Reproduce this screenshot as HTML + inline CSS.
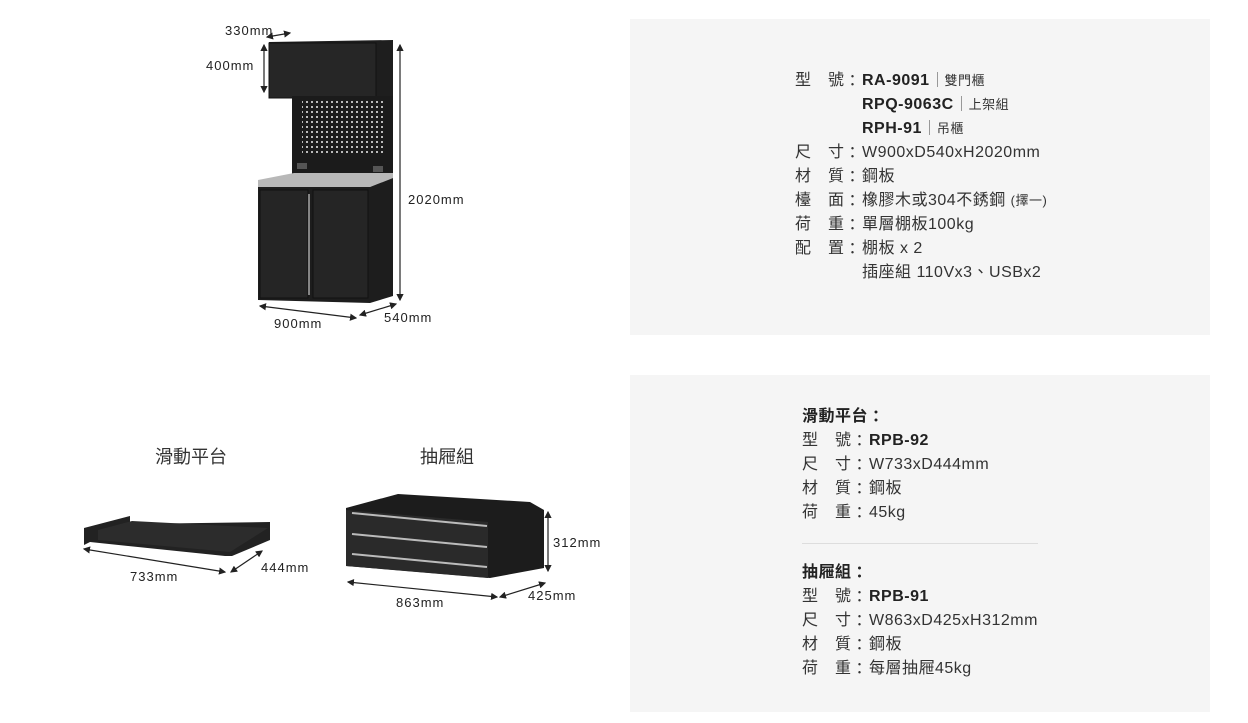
<!DOCTYPE html>
<html><head><meta charset="utf-8"><style>
body{margin:0;width:1248px;height:723px;background:#fff;position:relative;overflow:hidden;font-family:"Liberation Sans","Noto Sans CJK TC",sans-serif;color:#333}
.p{position:absolute;background:#f5f5f5}
.t{position:absolute;font-size:16px;line-height:20px;height:20px;white-space:nowrap;letter-spacing:0.5px}
.k{display:inline-block;width:67px}
.c{font-family:"Noto Sans CJK TC",sans-serif;display:inline-block;height:20px;line-height:20px;vertical-align:top;position:relative;top:-2px}
b{font-weight:bold;color:#222}
.sep{display:inline-block;width:1px;height:15px;background:#999;margin:0 7px;vertical-align:-2px}
.s{font-size:13px}
svg{position:absolute;left:0;top:0}
svg text{font-family:"Liberation Sans",sans-serif;font-size:13px;fill:#222;letter-spacing:1px}
</style></head><body>
<div class="p" style="left:630px;top:19px;width:580px;height:316px"></div>
<div class="p" style="left:630px;top:375px;width:580px;height:337px"></div>

<div class="t" style="left:795px;top:71px"><span class="k">型　號<span class="c">：</span></span><b>RA-9091</b><span class="sep"></span><span class="s">雙門櫃</span></div>
<div class="t" style="left:862px;top:95px"><b>RPQ-9063C</b><span class="sep"></span><span class="s">上架組</span></div>
<div class="t" style="left:862px;top:119px"><b>RPH-91</b><span class="sep"></span><span class="s">吊櫃</span></div>
<div class="t" style="left:795px;top:143px"><span class="k">尺　寸<span class="c">：</span></span>W900xD540xH2020mm</div>
<div class="t" style="left:795px;top:167px"><span class="k">材　質<span class="c">：</span></span>鋼板</div>
<div class="t" style="left:795px;top:191px"><span class="k">檯　面<span class="c">：</span></span>橡膠木或304不銹鋼 <span class="s">(擇一)</span></div>
<div class="t" style="left:795px;top:215px"><span class="k">荷　重<span class="c">：</span></span>單層棚板100kg</div>
<div class="t" style="left:795px;top:239px"><span class="k">配　置<span class="c">：</span></span>棚板 x 2</div>
<div class="t" style="left:862px;top:263px">插座組 110Vx3、USBx2</div>

<div class="t" style="left:802px;top:407px"><b>滑動平台<span class="c">：</span></b></div>
<div class="t" style="left:802px;top:431px"><span class="k">型　號<span class="c">：</span></span><b>RPB-92</b></div>
<div class="t" style="left:802px;top:455px"><span class="k">尺　寸<span class="c">：</span></span>W733xD444mm</div>
<div class="t" style="left:802px;top:479px"><span class="k">材　質<span class="c">：</span></span>鋼板</div>
<div class="t" style="left:802px;top:503px"><span class="k">荷　重<span class="c">：</span></span>45kg</div>
<div style="position:absolute;left:802px;top:543px;width:236px;height:1px;background:#ddd"></div>
<div class="t" style="left:802px;top:563px"><b>抽屜組<span class="c">：</span></b></div>
<div class="t" style="left:802px;top:587px"><span class="k">型　號<span class="c">：</span></span><b>RPB-91</b></div>
<div class="t" style="left:802px;top:611px"><span class="k">尺　寸<span class="c">：</span></span>W863xD425xH312mm</div>
<div class="t" style="left:802px;top:635px"><span class="k">材　質<span class="c">：</span></span>鋼板</div>
<div class="t" style="left:802px;top:659px"><span class="k">荷　重<span class="c">：</span></span>每層抽屜45kg</div>

<div class="t" style="left:155px;top:446px;font-size:18px;line-height:22px;letter-spacing:0">滑動平台</div>
<div class="t" style="left:420px;top:446px;font-size:18px;line-height:22px;letter-spacing:0">抽屜組</div>

<svg width="1248" height="723" viewBox="0 0 1248 723">
<defs><marker id="a" markerWidth="6" markerHeight="6" refX="5" refY="3" orient="auto-start-reverse"><path d="M0,0L6,3L0,6z" fill="#222"/></marker>
<pattern id="dots" width="5" height="5" patternUnits="userSpaceOnUse"><rect width="5" height="5" fill="#1b1b1b"/><rect x="1" y="1" width="2" height="2" fill="#bbb"/></pattern></defs>
<g stroke="#222" stroke-width="1.2" fill="none" marker-start="url(#a)" marker-end="url(#a)">
<line x1="267" y1="37" x2="290" y2="33"/>
<line x1="264" y1="45" x2="264" y2="92"/>
<line x1="400" y1="45" x2="400" y2="300"/>
<line x1="260" y1="306" x2="356" y2="318"/>
<line x1="360" y1="315" x2="396" y2="304"/>
<line x1="84" y1="549" x2="225" y2="572"/>
<line x1="231" y1="572" x2="262" y2="551"/>
<line x1="348" y1="582" x2="497" y2="597"/>
<line x1="500" y1="597" x2="545" y2="583"/>
<line x1="548" y1="512" x2="548" y2="571"/>
</g>
<text x="225" y="35">330mm</text>
<text x="206" y="70">400mm</text>
<text x="408" y="204">2020mm</text>
<text x="274" y="328">900mm</text>
<text x="384" y="322">540mm</text>
<text x="130" y="581">733mm</text>
<text x="261" y="572">444mm</text>
<text x="396" y="607">863mm</text>
<text x="528" y="600">425mm</text>
<text x="553" y="547">312mm</text>
<polygon points="269,42 393,40 393,96 375,100 269,98" fill="#1e1e1e"/>
<rect x="269" y="43" width="107" height="55" fill="#262626" stroke="#111"/>
<rect x="292" y="96" width="101" height="80" fill="#1b1b1b"/>
<rect x="302" y="100" width="82" height="56" fill="url(#dots)"/>
<rect x="297" y="163" width="10" height="6" fill="#555"/>
<rect x="373" y="166" width="10" height="6" fill="#555"/>
<polygon points="258,180 294,173 393,173 393,178 370,187 258,187" fill="#b8b8b8"/>
<polygon points="258,187 370,187 393,178 393,296 370,303 258,300" fill="#1d1d1d"/>
<rect x="260" y="190" width="48" height="108" fill="#252525" stroke="#111"/>
<rect x="313" y="190" width="55" height="108" fill="#252525" stroke="#111"/>
<line x1="309" y1="194" x2="309" y2="295" stroke="#aaa" stroke-width="1.5"/>
<polygon points="84,528 130,516 130,524 270,522 270,540 232,556 225,556 90,542 84,545" fill="#222"/>
<polygon points="98,530 132,521 268,528 230,552 98,540" fill="#2c2c2c"/>
<polygon points="346,508 398,494 530,502 544,510 544,568 490,578 346,566" fill="#1c1c1c"/>
<polygon points="346,510 488,522 488,578 346,566" fill="#2a2a2a"/>
<g stroke="#bbb" stroke-width="2"><line x1="352" y1="513" x2="487" y2="526"/><line x1="352" y1="534" x2="487" y2="547"/><line x1="352" y1="554" x2="487" y2="567"/></g>
</svg>
</body></html>
